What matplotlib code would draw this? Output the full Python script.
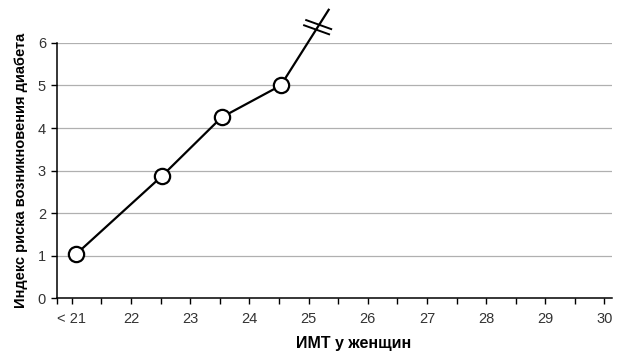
import numpy as np
import matplotlib
matplotlib.use('Agg')
import matplotlib.pyplot as plt
from matplotlib.ticker import FixedLocator

# data
bmi = [21.07, 22.53, 23.53, 24.53]
risk = [1.03, 2.88, 4.25, 5.0]
# line runs off the top of the chart (break marks)
bmi_tail = 25.34
risk_tail = 6.78
tick_pos = [21, 22, 23, 24, 25, 26, 27, 28, 29, 30]
tick_labels = ['< 21', '22', '23', '24', '25', '26', '27', '28', '29', '30']

plt.rcParams['font.family'] = ['Liberation Sans', 'DejaVu Sans']

fig = plt.figure(figsize=(6.27, 3.64), dpi=100)
ax = fig.add_axes([0.0909, 0.181, 0.885, 0.701])

ax.set_xlim(20.75, 30.125)
ax.set_ylim(0, 6)

for y in range(1, 7):
    ax.axhline(y, color='#b0b0b0', lw=0.9, zorder=0)

# line + tail
ax.plot(bmi + [bmi_tail], risk + [risk_tail], color='black', lw=1.6,
        clip_on=False, zorder=2)
ax.plot(bmi, risk, 'o', ms=11, mfc='white', mec='black', mew=1.6,
        clip_on=False, zorder=3)

# break marks on the tail
t = 0.77
bx = bmi[-1] + t * (bmi_tail - bmi[-1])
by = risk[-1] + t * (risk_tail - risk[-1])
x0, y0 = ax.transData.transform((bx, by))
inv = ax.transData.inverted()
for d in (2.6, -2.6):
    p1 = inv.transform((x0 - 12.5 + d * 0.4, y0 + 4.5 + d))
    p2 = inv.transform((x0 + 12.5 + d * 0.4, y0 - 4.5 + d))
    ax.plot([p1[0], p2[0]], [p1[1], p2[1]], color='black', lw=1.4,
            clip_on=False, zorder=4)

ax.set_xticks(tick_pos)
ax.set_xticklabels(tick_labels)
ax.xaxis.set_minor_locator(FixedLocator([20.75] + [v + 0.5 for v in tick_pos[:-1]]))
ax.tick_params(axis='x', which='both', direction='out', length=4, width=1,
               labelsize=10.5, pad=6, colors='black', labelcolor='#333333')
ax.set_yticks(range(0, 7))
ax.tick_params(axis='y', direction='out', length=4, width=1, labelsize=10.5,
               pad=4, labelcolor='#333333')

for s in ('top', 'right'):
    ax.spines[s].set_visible(False)
ax.spines['left'].set_linewidth(1.1)
ax.spines['bottom'].set_linewidth(1.1)

ax.set_ylabel('Индекс риска возникновения диабета', fontsize=10.5,
              fontweight='bold', labelpad=7)
ax.set_xlabel('ИМТ у женщин', fontsize=11.5, fontweight='bold')
ax.xaxis.set_label_coords(0.535, -0.15)

fig.savefig('out.png', dpi=100)
